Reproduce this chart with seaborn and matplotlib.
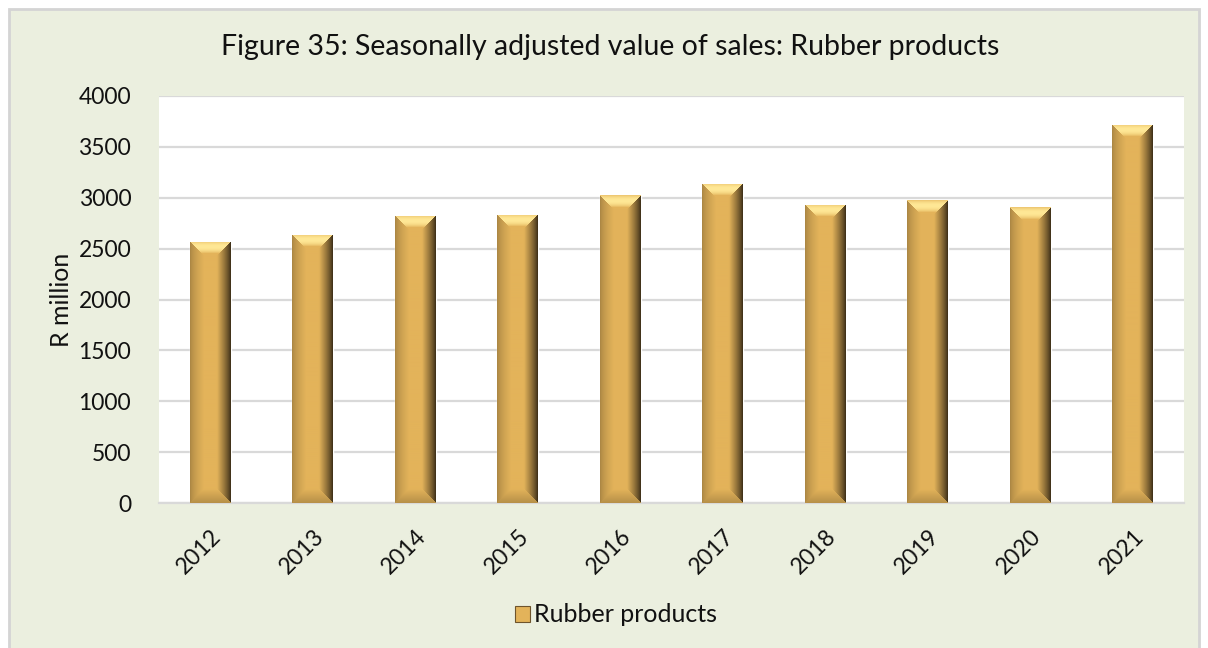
import numpy as np
import pandas as pd
import matplotlib
matplotlib.use("Agg")
import matplotlib.pyplot as plt
from matplotlib.patches import Rectangle, Patch
import seaborn as sns

# values (R million)
years = ["2012", "2013", "2014", "2015", "2016", "2017", "2018", "2019", "2020", "2021"]
sales = [2568, 2635, 2825, 2833, 3023, 3136, 2930, 2973, 2908, 3716]
series_name = "Rubber products"
title = "Figure 35: Seasonally adjusted value of sales: Rubber products"
y_ticks = [0, 500, 1000, 1500, 2000, 2500, 3000, 3500, 4000]

BASE = np.array([227, 179, 90]) / 255
LIGHT = np.array([255, 232, 150]) / 255
DARK = np.array([55, 42, 22]) / 255
BG = "#EBEFDF"
FONT = ["Lato", "DejaVu Sans"]


def bevel_image(w, h, b=14):
    # fake 3D bevel like the office "angle" bar effect
    xs = np.arange(w)[None, :] + 0.5
    ys = np.arange(h)[:, None] + 0.5
    d_left = np.broadcast_to(xs, (h, w))
    d_right = np.broadcast_to(w - xs, (h, w))
    d_top = np.broadcast_to(ys, (h, w))
    d_bot = np.broadcast_to(h - ys, (h, w))
    img = np.ones((h, w, 3)) * BASE
    dmin = np.minimum(np.minimum(d_left, d_right), np.minimum(d_top, d_bot))
    edge = dmin < b
    t = np.clip(dmin / b, 0, 1)[..., None]
    top = edge & (d_top == dmin)
    bot = edge & (d_bot == dmin) & ~top
    right = edge & (d_right == dmin) & ~top & ~bot
    left = edge & (d_left == dmin) & ~top & ~bot & ~right
    top_col = BASE + (LIGHT - BASE) * np.sin(np.pi * np.clip(t * 1.1 + 0.05, 0, 1)) ** 0.7
    bot_col = BASE * 0.8 + (BASE - BASE * 0.8) * t
    right_col = DARK + (BASE - DARK) * t ** 0.8
    left_col = BASE * 0.72 + (BASE - BASE * 0.72) * t ** 0.6
    img = np.where(top[..., None], top_col, img)
    img = np.where(bot[..., None], bot_col, img)
    img = np.where(right[..., None], right_col, img)
    img = np.where(left[..., None], left_col, img)
    return np.clip(img, 0, 1)


sns.set_style("white")
plt.rcParams["font.family"] = FONT
plt.rcParams["text.color"] = "#111111"
plt.rcParams["axes.labelcolor"] = "#111111"

df = pd.DataFrame({"year": years, "sales": sales})

fig = plt.figure(figsize=(12.08, 6.48), dpi=100)
fig.patch.set_facecolor("white")
fig.patches.append(Rectangle((9 / 1208, -0.05), 1190 / 1208, 1.05 - 9 / 648,
                             transform=fig.transFigure, facecolor=BG,
                             edgecolor="#D4D4D4", linewidth=2, zorder=-10))

ax = fig.add_axes([159 / 1208, 1 - 503 / 648, (1184 - 159) / 1208, (503 - 96) / 648])
ax.set_zorder(1)
sns.barplot(data=df, x="year", y="sales", color=tuple(BASE), width=0.4,
            saturation=1, ax=ax, zorder=2)

ax.set_ylim(0, 4000)
ax.set_yticks(y_ticks)
ax.set_xlim(-0.5, len(years) - 0.5)
ax.set_facecolor("white")
ax.grid(axis="y", color="#D9D9D9", linewidth=1.6, zorder=0)
ax.set_axisbelow(True)
for s in ["top", "right", "left"]:
    ax.spines[s].set_visible(False)
ax.spines["bottom"].set_color("#D9D9D9")
ax.spines["bottom"].set_linewidth(1.6)
ax.tick_params(axis="both", length=0, labelsize=16.5, colors="#111111")
ax.tick_params(axis="y", pad=20)
ax.set_xlabel("")
ax.set_ylabel("R million", fontsize=18, labelpad=4)
plt.setp(ax.get_xticklabels(), rotation=45, ha="right", rotation_mode="anchor")
ax.tick_params(axis="x", pad=16)

fig.canvas.draw()
px_per_unit_y = (ax.transData.transform((0, 1000))[1] - ax.transData.transform((0, 0))[1]) / 1000
for patch in ax.patches:
    x0 = patch.get_x()
    w = patch.get_width()
    h = patch.get_height()
    wpx = int(round(ax.transData.transform((x0 + w, 0))[0] - ax.transData.transform((x0, 0))[0]))
    hpx = int(round(h * px_per_unit_y))
    img = bevel_image(max(wpx, 2), max(hpx, 2))
    im = ax.imshow(img, extent=(x0, x0 + w, 0, h), aspect="auto",
                   interpolation="bilinear", zorder=3)
    im.set_clip_path(patch)
ax.set_xlim(-0.5, len(years) - 0.5)
ax.set_ylim(0, 4000)

fig.text(0.505, 1 - 47 / 648, title, ha="center", va="center", fontsize=20.5)

handle = Patch(facecolor=tuple(BASE), edgecolor=tuple(DARK * 2), linewidth=0.8)
fig.legend([handle], [series_name], loc="center", bbox_to_anchor=(0.51, 1 - 615 / 648),
           frameon=False, fontsize=18, handlelength=0.6, handleheight=0.6,
           handletextpad=0.15)

fig.savefig("out.png", dpi=100, facecolor=fig.get_facecolor())
